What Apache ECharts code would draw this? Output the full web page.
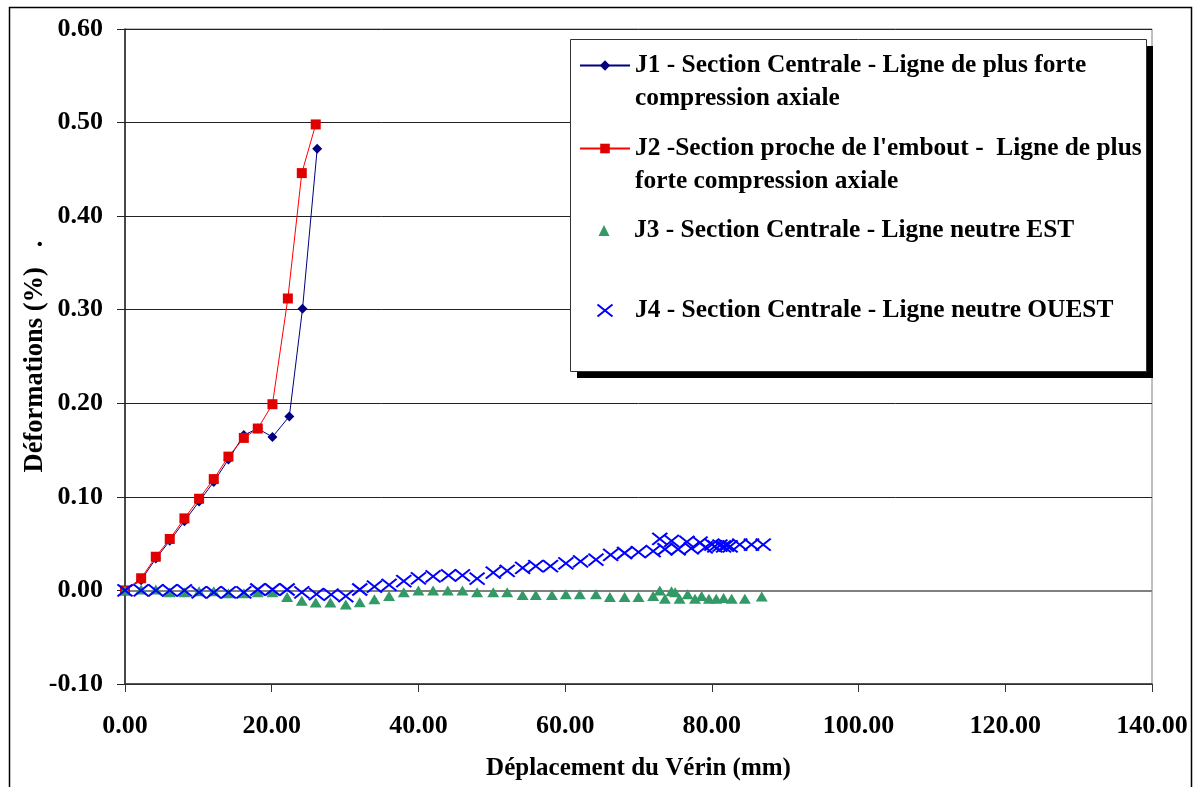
<!DOCTYPE html>
<html>
<head>
<meta charset="utf-8">
<script src="https://cdn.jsdelivr.net/npm/echarts@6/dist/echarts.min.js"></script>
<style>
html,body{margin:0;padding:0;background:#fff;}
#chart{width:1196px;height:787px;}
</style>
</head>
<body>
<div id="chart"></div>
<script>
// ---- Data ----
const xTicks = [0, 20, 40, 60, 80, 100, 120, 140];
const yTicks = [-0.1, 0, 0.1, 0.2, 0.3, 0.4, 0.5, 0.6];

const seriesNames = [
  "J1 - Section Centrale - Ligne de plus forte\ncompression axiale",
  "J2 -Section proche de l'embout -  Ligne de plus\nforte compression axiale",
  "J3 - Section Centrale - Ligne neutre EST",
  "J4 - Section Centrale - Ligne neutre OUEST"
];

const j1X = [0, 2.2, 4.2, 6.1, 8.1, 10.1, 12.1, 14.1, 16.2, 18.1, 20.1, 22.4, 24.2, 26.2];
const j1Y = [0, 0.011, 0.034, 0.053, 0.074, 0.095, 0.116, 0.140, 0.166, 0.173, 0.164, 0.186, 0.301, 0.472];

const j2X = [0, 2.2, 4.2, 6.1, 8.1, 10.1, 12.1, 14.1, 16.2, 18.1, 20.1, 22.2, 24.1, 26.0];
const j2Y = [0, 0.013, 0.036, 0.055, 0.077, 0.098, 0.119, 0.143, 0.163, 0.173, 0.199, 0.312, 0.446, 0.498];

const j3X = [0, 2.2, 4.2, 6.1, 8.1, 10.1, 12.1, 14.1, 16.2, 18.1, 20.1, 22.1, 24.1, 26.0, 28.0, 30.1, 32.0, 34.0, 36.0, 38.0,
             40.0, 42.0, 44.0, 46.0, 48.0, 50.2, 52.1, 54.2, 56.0, 58.2, 60.1, 62.0, 64.2, 66.1, 68.1, 70.0, 72.0, 72.9,
             73.6, 74.5, 75.0, 75.6, 76.7, 77.7, 78.6, 79.6, 80.6, 81.6, 82.7, 84.5, 86.8];
const j3Y = [0, 0.001, 0.001, -0.002, -0.002, -0.001, -0.001, -0.003, -0.003, -0.002, -0.002, -0.007, -0.011, -0.013, -0.013, -0.015, -0.0125, -0.0095, -0.006, -0.002,
             0, 0, 0, 0, -0.002, -0.002, -0.002, -0.005, -0.005, -0.005, -0.004, -0.004, -0.004, -0.007, -0.007, -0.007, -0.006, 0.0,
             -0.009, -0.001, -0.002, -0.009, -0.004, -0.009, -0.006, -0.009, -0.009, -0.008, -0.009, -0.009, -0.0065];

const j4X = [0, 2.2, 4.2, 6.1, 8.1, 10.1, 12.1, 14.1, 16.2, 18.1, 20.1, 22.1, 24.1, 26.1, 28.1, 30.1, 32.0, 34.0, 36.0, 38.0,
             40.0, 42.0, 44.1, 46.0, 48.0, 50.2, 52.1, 54.2, 56.0, 58.0, 60.1, 62.1, 64.2, 66.2, 68.1, 70.0, 72.0, 72.9,
             73.6, 74.5, 75.4, 76.6, 77.2, 78.4, 79.1, 80.0, 80.4, 81.1, 81.6, 82.0, 82.5, 83.8, 85.4, 87.0];
const j4Y = [0, 0, 0, 0, 0, -0.002, -0.002, -0.002, -0.002, 0.001, 0.001, 0.001, -0.002, -0.004, -0.0045, -0.006, 0.001, 0.004, 0.006, 0.010,
             0.013, 0.015, 0.016, 0.016, 0.0125, 0.019, 0.021, 0.024, 0.026, 0.026, 0.029, 0.031, 0.033, 0.038, 0.040, 0.041, 0.042, 0.055,
             0.044, 0.053, 0.044, 0.052, 0.045, 0.051, 0.046, 0.049, 0.047, 0.048, 0.047, 0.048, 0.047, 0.049, 0.049, 0.049];

const xTitle = "Déplacement du Vérin (mm)";
const yTitle = "Déformations (%)   .";

// ---- Build ----
const pairs = (xs, ys) => xs.map((x, i) => [x, ys[i]]);
const FONT = "'Liberation Serif', 'Times New Roman', serif";

const chart = echarts.init(document.getElementById('chart'), null, {renderer: 'canvas'});

function legendFor(name, left, top, itemHeight, twoLine) {
  return {
    data: [name],
    orient: 'vertical',
    left: left,
    top: top,
    padding: 0,
    itemWidth: 50,
    itemHeight: itemHeight,
    itemGap: 0,
    selectedMode: false,
    z: 20,
    formatter: twoLine ? (n) => ' \n' + n : (n) => n,
    textStyle: {
      fontFamily: FONT, fontWeight: 'bold', fontSize: 25.4, color: '#000', lineHeight: 33
    }
  };
}

const option = {
  animation: false,
  backgroundColor: '#fff',
  grid: {
    left: 125, top: 29, right: 44, bottom: 103,
    show: true, borderColor: '#808080', borderWidth: 1, backgroundColor: 'transparent'
  },
  xAxis: {
    type: 'value',
    min: xTicks[0], max: xTicks[xTicks.length - 1], interval: 20,
    name: xTitle, nameLocation: 'middle', nameGap: 72, nameMoveOverlap: false,
    nameTextStyle: {fontFamily: FONT, fontWeight: 'bold', fontSize: 25, color: '#000'},
    axisLine: {show: true, onZero: false, lineStyle: {color: '#333', width: 1.5}},
    axisTick: {show: true, inside: false, length: 8, lineStyle: {color: '#333', width: 1}},
    axisLabel: {margin: 29, fontFamily: FONT, fontWeight: 'bold', fontSize: 26, color: '#000',
                formatter: v => v.toFixed(2)},
    splitLine: {show: false}
  },
  yAxis: {
    type: 'value',
    min: yTicks[0], max: yTicks[yTicks.length - 1], interval: 0.1,
    name: yTitle, nameLocation: 'middle', nameGap: 76, nameRotate: 90, nameMoveOverlap: false,
    nameTextStyle: {fontFamily: FONT, fontWeight: 'bold', fontSize: 26.5, color: '#000'},
    axisLine: {show: true, onZero: false, lineStyle: {color: '#222', width: 1.5}},
    axisTick: {show: true, inside: false, length: 8, lineStyle: {color: '#222', width: 1}},
    axisLabel: {margin: 22, fontFamily: FONT, fontWeight: 'bold', fontSize: 26, color: '#000',
                formatter: v => v.toFixed(2)},
    splitLine: {show: true, lineStyle: {color: '#222', width: 1}}
  },
  legend: [
    legendFor(seriesNames[0], 579, 16, 13, true),
    legendFor(seriesNames[1], 579, 99, 12, true),
    legendFor(seriesNames[2], 598.5, 214, 11, false),
    legendFor(seriesNames[3], 596.5, 294, 12, false)
  ],
  graphic: [
    {type: 'rect', z: 0, silent: true, shape: {x: 9.5, y: 7.5, width: 1182, height: 800},
     style: {fill: 'none', stroke: '#000', lineWidth: 1.5}},
    {type: 'rect', z: 10, silent: true, shape: {x: 577, y: 46, width: 576, height: 332},
     style: {fill: '#000'}},
    {type: 'rect', z: 11, silent: true, shape: {x: 570.5, y: 39.5, width: 576, height: 332},
     style: {fill: '#fff', stroke: '#333', lineWidth: 1}}
  ],
  series: [
    {
      name: seriesNames[0], type: 'line', data: pairs(j1X, j1Y),
      symbol: 'diamond', symbolSize: 10, showSymbol: true,
      lineStyle: {color: '#000080', width: 1},
      itemStyle: {color: '#000080'},
      z: 3
    },
    {
      name: seriesNames[1], type: 'line', data: pairs(j2X, j2Y),
      symbol: 'rect', symbolSize: 10, showSymbol: true,
      lineStyle: {color: '#FF0000', width: 1},
      itemStyle: {color: '#E00000'},
      z: 4
    },
    {
      name: seriesNames[2], type: 'scatter', data: pairs(j3X, j3Y),
      symbol: 'path://M5,0L10,10L0,10Z', symbolSize: [12, 10],
      itemStyle: {color: '#339966', opacity: 1},
      z: 5,
      markLine: {
        silent: true, z: 1, symbol: ['none', 'none'], label: {show: false},
        lineStyle: {color: '#808080', width: 2, type: 'solid'},
        data: [{yAxis: 0}]
      }
    },
    {
      name: seriesNames[3], type: 'scatter', data: pairs(j4X, j4Y),
      symbol: 'path://M0,0L15,12M15,0L0,12', symbolSize: [15, 12],
      itemStyle: {color: '#0000FF', borderColor: '#0000FF', borderWidth: 2, opacity: 1},
      z: 6
    }
  ]
};

chart.setOption(option);
</script>
</body>
</html>
